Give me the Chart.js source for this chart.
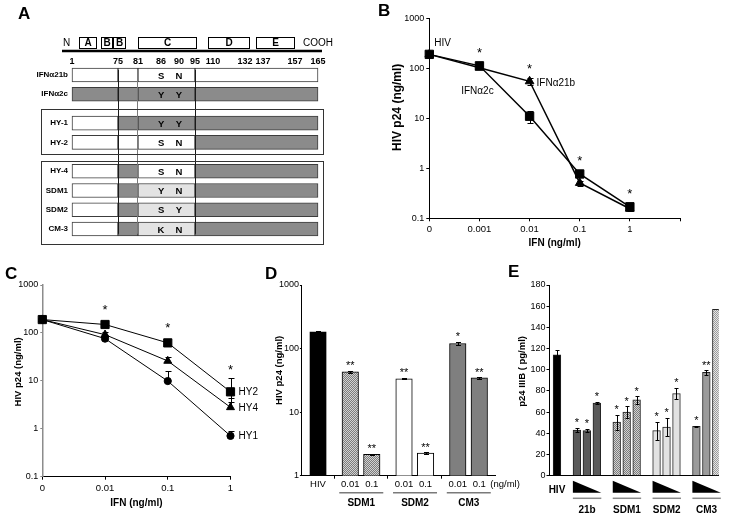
<!DOCTYPE html>
<html>
<head>
<meta charset="utf-8">
<script src="https://cdn.jsdelivr.net/npm/chart.js@4.4.1/dist/chart.umd.min.js"></script>
<style>
  html, body { margin: 0; padding: 0; background: #fff; }
  #page { position: relative; width: 733px; height: 518px; overflow: hidden; }
  #page canvas { position: absolute; }
  .tag { position: absolute; font: bold 17px/18px "Liberation Sans", Arial, sans-serif; color: #000; }
</style>
</head>
<body>
<div id="page">
  <canvas id="chartA" width="370" height="255" style="left:0;top:0"></canvas>
  <canvas id="chartB" width="363" height="252" style="left:370px;top:0"></canvas>
  <canvas id="chartC" width="262" height="256" style="left:0;top:262px"></canvas>
  <canvas id="chartD" width="270" height="256" style="left:255px;top:262px"></canvas>
  <canvas id="chartE" width="233" height="256" style="left:500px;top:262px"></canvas>
  <div class="tag" style="left:18px;top:5px">A</div>
  <div class="tag" style="left:378px;top:2px">B</div>
  <div class="tag" style="left:5px;top:265px">C</div>
  <div class="tag" style="left:265px;top:265px">D</div>
  <div class="tag" style="left:508px;top:263px">E</div>
</div>
<script>
// ---- A: chimera map ----
const rowNames = ['IFNα21b', 'IFNα2c', 'HY-1', 'HY-2', 'HY-4', 'SDM1', 'SDM2', 'CM-3'];
const rowGroup = [0, 0, 1, 1, 2, 2, 2, 2];
const segEdges = [1, 75, 81, 95, 165];
// w = IFNa21b stretch, g = IFNa2c stretch, l = mutated stretch
const rowFill = ['wwww', 'gggg', 'wggg', 'wwwg', 'wgwg', 'wglg', 'wglg', 'wglg'];
const res86 = ['S', 'Y', 'Y', 'S', 'S', 'Y', 'S', 'K'];
const res90 = ['N', 'Y', 'Y', 'N', 'N', 'N', 'Y', 'N'];
const residueTicks = [1, 75, 81, 86, 90, 95, 110, 132, 137, 157, 165];
const domainNames = ['A', 'B', 'B', 'C', 'D', 'E'];
const domainFrom = [12, 48, 67, 81, 106, 135];
const domainTo = [40, 65, 77, 96, 133, 156];

// ---- B: IFNa2c vs IFNa21b ----
const doseB = ['0', '0.001', '0.01', '0.1', '1'];
const seriesB = ['IFNα2c', 'IFNα21b'];
const ifn2c = [190, 112, 11, 0.77, 0.17];
const ifn2cErr = [10, 8, 3, 0.1, 0.02];
const ifn21b = [190, 103, 55, 0.51, 0.155];
const ifn21bErr = [10, 8, 8, 0.06, 0.015];
const starsB = ['', '*', '*', '*', '*'];

// ---- C: hybrids ----
const doseC = ['0', '0.01', '0.1', '1'];
const seriesC = ['HY2', 'HY4', 'HY1'];
const hy2 = [190, 150, 62, 5.9];
const hy2Err = [10, 10, 13, 5.5];
const hy2ErrLow = [0, 0, 0, 2.2];
const hy4 = [190, 92, 26, 2.8];
const hy4Err = [10, 12, 5, 1.6];
const hy1 = [190, 76, 9.9, 0.71];
const hy1Err = [10, 8, 6, 0.2];
const noLow = [0, 0, 0, 0];
const starsC = ['', '*', '*', '*'];

// ---- D: point mutants ----
const dGroups = ['SDM1', 'SDM2', 'CM3'];
const dDoses = ['0.01', '0.1'];
const dHiv = 184;
const dHivErr = 8;
const dValues = [[43, 2.17], [33.5, 2.27], [120, 34.5]];
const dErrors = [[1.2, 0.06], [0.8, 0.05], [6, 0.8]];
const dStars = [['**', '**'], ['**', '**'], ['*', '**']];

// ---- E: p24 IIIB ----
const eGroups = ['21b', 'SDM1', 'SDM2', 'CM3'];
const eHiv = 114;
const eHivErr = 4.5;
const eValues = [[43, 42.5, 68.5], [50.5, 60, 71.5], [42.5, 46, 77.5], [46.5, 97.5, 157]];
const eErrors = [[2, 1.5, 1], [7, 5.5, 3.5], [8.5, 8.5, 5.5], [0.5, 2, 0]];
const eStars = [['*', '*', '*'], ['*', '*', '*'], ['*', '*', '*'], ['*', '**', '']];

const logTicksB = [0.1, 1, 10, 100, 1000];
const logTicksD = [1, 10, 100, 1000];

const FONT = '"Liberation Sans", Arial, Helvetica, sans-serif';
Chart.defaults.font.family = FONT;
Chart.defaults.font.size = 9;
Chart.defaults.color = '#000';

// residue -> fraction of the drawn map (the map is not to scale)
const schemeLayout = [[1, 0], [75, 0.187], [81, 0.268], [86, 0.362], [90, 0.435], [95, 0.5],
  [110, 0.573], [132, 0.703], [137, 0.776], [157, 0.907], [165, 1]];

class SchemeScale extends Chart.LinearScale {
  getPixelForValue(value) {
    const b = schemeLayout;
    let d = 1;
    for (let i = 1; i < b.length; i++) {
      if (value <= b[i][0]) {
        d = b[i - 1][1] + (value - b[i - 1][0]) / (b[i][0] - b[i - 1][0]) * (b[i][1] - b[i - 1][1]);
        break;
      }
    }
    return this.getPixelForDecimal(d);
  }
}
SchemeScale.id = 'scheme';
SchemeScale.defaults = { ticks: { callback: v => String(v) } };
Chart.register(SchemeScale);

function hatch(bg, fg) {
  const c = document.createElement('canvas');
  c.width = 2; c.height = 2;
  const g = c.getContext('2d');
  g.fillStyle = bg; g.fillRect(0, 0, 2, 2);
  g.fillStyle = fg; g.fillRect(0, 0, 1, 1); g.fillRect(1, 1, 1, 1);
  return g.createPattern(c, 'repeat');
}

function baseOptions(padding) {
  return {
    responsive: false,
    animation: false,
    devicePixelRatio: 1,
    layout: { padding },
    plugins: { legend: { display: false }, tooltip: { enabled: false } }
  };
}

function tickGrid() {
  return { display: true, drawOnChartArea: false, drawTicks: true, tickLength: 3, tickColor: '#000', tickWidth: 1 };
}

// rotated y-axis title, sits a little above the middle of the plot like the figure
function yTitle(text, cx, size, shift) {
  return {
    id: 'yTitle',
    afterDraw(chart) {
      const { ctx, chartArea: ca } = chart;
      ctx.save();
      ctx.translate(cx, (ca.top + ca.bottom) / 2 + shift);
      ctx.rotate(-Math.PI / 2);
      ctx.font = 'bold ' + size + 'px ' + FONT;
      ctx.textAlign = 'center';
      ctx.textBaseline = 'middle';
      ctx.fillStyle = '#000';
      ctx.fillText(text, 0, 0);
      ctx.restore();
    }
  };
}

function errorBars(onTop, cap) {
  const draw = chart => {
    const { ctx } = chart;
    const y = chart.scales.y;
    ctx.save();
    ctx.strokeStyle = '#000';
    ctx.lineWidth = 1;
    chart.data.datasets.forEach((ds, di) => {
      if (!ds.errors) return;
      chart.getDatasetMeta(di).data.forEach((el, i) => {
        const v = ds.data[i], e = ds.errors[i];
        if (v == null || !e) return;
        const lo = ds.errorsLow ? ds.errorsLow[i] : e;
        const px = Math.round(el.x) + 0.5;
        const yt = Math.round(y.getPixelForValue(v + e)) + 0.5;
        const yb = Math.round(y.getPixelForValue(Math.max(v - lo, y.min))) + 0.5;
        ctx.beginPath();
        ctx.moveTo(px, yb); ctx.lineTo(px, yt);
        ctx.moveTo(px - cap, yt); ctx.lineTo(px + cap, yt);
        if (lo) { ctx.moveTo(px - cap, yb); ctx.lineTo(px + cap, yb); }
        ctx.stroke();
      });
    });
    ctx.restore();
  };
  return onTop ? { id: 'errorBars', afterDatasetsDraw: draw } : { id: 'errorBars', beforeDatasetsDraw: draw };
}

function starsOverPoints(stars, gap, size) {
  return {
    id: 'starsPts',
    afterDatasetsDraw(chart) {
      const { ctx, scales: { y } } = chart;
      ctx.save();
      ctx.font = size + 'px ' + FONT;
      ctx.textAlign = 'center';
      ctx.textBaseline = 'alphabetic';
      ctx.fillStyle = '#000';
      stars.forEach((s, i) => {
        if (!s) return;
        let top = Infinity, px = 0;
        chart.data.datasets.forEach((ds, di) => {
          const el = chart.getDatasetMeta(di).data[i];
          px = el.x;
          top = Math.min(top, y.getPixelForValue(ds.data[i] + ds.errors[i]), el.y - ds.pointRadius);
        });
        ctx.fillText(s, px, top - gap + 0.57 * size);
      });
      ctx.restore();
    }
  };
}

function starsOverBars(gap, size) {
  return {
    id: 'starsBars',
    afterDatasetsDraw(chart) {
      const { ctx, scales: { y } } = chart;
      ctx.save();
      ctx.font = size + 'px ' + FONT;
      ctx.textAlign = 'center';
      ctx.fillStyle = '#000';
      chart.data.datasets.forEach((ds, di) => {
        chart.getDatasetMeta(di).data.forEach((el, i) => {
          const s = ds.stars[i];
          if (!s) return;
          const top = y.getPixelForValue(ds.data[i] + (ds.errors[i] || 0));
          ctx.fillText(s, el.x, top - gap + 0.57 * size);
        });
      });
      ctx.restore();
    }
  };
}

// ================= A =================
const fillColor = { w: '#ffffff', g: '#8b8b8b', l: '#e3e3e3' };
// half-row slots: one empty slot between rows, two between framed groups
const rowLabels = [];
const rowSlot = [];
rowNames.forEach((n, i) => {
  if (i > 0) rowLabels.push(...(rowGroup[i] !== rowGroup[i - 1] ? ['', ''] : ['']));
  rowSlot.push(rowLabels.length);
  rowLabels.push(n);
});

const segSets = segEdges.slice(1).map((end, s) => ({
  data: rowLabels.map(l => rowNames.indexOf(l) < 0 ? null : [segEdges[s], end]),
  backgroundColor: rowLabels.map(l => {
    const i = rowNames.indexOf(l);
    return i < 0 ? 'rgba(0,0,0,0)' : fillColor[rowFill[i][s]];
  }),
  borderColor: '#3c3c3c',
  borderWidth: 1,
  borderSkipped: false,
  barThickness: 14,
  grouped: false,
  clip: false
}));

const schemePlugin = {
  id: 'schemeDraw',
  afterDraw(chart) {
    const { ctx, chartArea: ca, scales: { x, y } } = chart;
    const right = x.getPixelForValue(165);
    ctx.save();
    // framed groups
    ctx.strokeStyle = '#333';
    ctx.lineWidth = 1;
    [1, 2].forEach(g => {
      const rows = rowNames.map((n, i) => i).filter(i => rowGroup[i] === g);
      const t = Math.round(y.getPixelForValue(rowSlot[rows[0]]) - (g === 1 ? 14 : 10.5)) + 0.5;
      const b = Math.round(y.getPixelForValue(rowSlot[rows[rows.length - 1]]) + (g === 2 ? 15.5 : 11.5)) + 0.5;
      ctx.strokeRect(Math.round(ca.left - 31) + 0.5, t, Math.round(right + 5 - ca.left + 31), b - t);
    });
    // residues 86 / 90
    ctx.fillStyle = '#000';
    ctx.font = 'bold 9.5px ' + FONT;
    ctx.textAlign = 'center';
    ctx.textBaseline = 'middle';
    rowNames.forEach((n, i) => {
      const py = y.getPixelForValue(rowSlot[i]) + 1;
      ctx.fillText(res86[i], x.getPixelForValue(86), py);
      ctx.fillText(res90[i], x.getPixelForValue(90), py);
    });
    // domain header
    const lineY = ca.top - 19.2;
    ctx.strokeStyle = '#000';
    ctx.lineWidth = 2.5;
    ctx.beginPath();
    ctx.moveTo(x.getPixelForValue(1) - 10, lineY);
    ctx.lineTo(right + 4, lineY);
    ctx.stroke();
    const bt = Math.round(ca.top - 33.2) + 0.5, bh = 11;
    ctx.lineWidth = 1;
    domainNames.forEach((d, i) => {
      const l = Math.round(x.getPixelForValue(domainFrom[i])) + 0.5;
      const r = Math.round(x.getPixelForValue(domainTo[i])) + 0.5;
      ctx.fillStyle = '#fff';
      ctx.fillRect(l, bt, r - l, bh);
      ctx.strokeRect(l, bt, r - l, bh);
      ctx.fillStyle = '#000';
      ctx.font = 'bold 10px ' + FONT;
      ctx.fillText(d, (l + r) / 2, bt + bh / 2 + 0.5);
    });
    ctx.font = '10px ' + FONT;
    ctx.textAlign = 'left';
    ctx.fillText('N', x.getPixelForValue(1) - 9, bt + bh / 2 + 0.5);
    ctx.textAlign = 'right';
    ctx.fillText('COOH', right + 15, bt + bh / 2 + 0.5);
    ctx.restore();
  }
};

const cutColor = { 75: '#1a1a1a', 81: '#7a7a7a', 95: '#1a1a1a' };

new Chart(document.getElementById('chartA'), {
  type: 'bar',
  data: { labels: rowLabels, datasets: segSets },
  options: {
    ...baseOptions({ top: 0, right: 52, bottom: 21.2, left: 0 }),
    indexAxis: 'y',
    scales: {
      x: {
        type: 'scheme',
        position: 'top',
        min: 1,
        max: 165,
        afterBuildTicks: s => { s.ticks = residueTicks.map(v => ({ value: v })); },
        afterFit: s => { s.height = 70.2; },
        ticks: { font: { size: 9, weight: 'bold' }, padding: 2.8, autoSkip: false, maxRotation: 0, callback: v => String(v) },
        grid: {
          z: 1,
          drawTicks: false,
          lineWidth: 1,
          color: c => (c.tick && cutColor[c.tick.value]) || 'rgba(0,0,0,0)'
        },
        border: { display: false }
      },
      y: {
        afterFit: s => { s.width = 72; },
        ticks: { font: { size: 8, weight: 'bold' }, padding: 4, autoSkip: false },
        grid: { display: false, drawTicks: false },
        border: { display: false }
      }
    }
  },
  plugins: [schemePlugin]
});

// ================= B =================
const labelsB = {
  id: 'labelsB',
  afterDatasetsDraw(chart) {
    const { ctx, scales: { x, y } } = chart;
    ctx.save();
    ctx.font = '10px ' + FONT;
    ctx.fillStyle = '#000';
    ctx.textBaseline = 'middle';
    ctx.textAlign = 'left';
    ctx.fillText('HIV', x.getPixelForValue(0) + 5, y.getPixelForValue(ifn2c[0]) - 11);
    ctx.textAlign = 'center';
    ctx.fillText(seriesB[0], x.getPixelForValue(1) - 2, y.getPixelForValue(ifn2c[1]) + 25);
    ctx.textAlign = 'left';
    ctx.fillText(seriesB[1], x.getPixelForValue(2) + 7, y.getPixelForValue(ifn21b[2]) + 2);
    ctx.restore();
  }
};

new Chart(document.getElementById('chartB'), {
  type: 'line',
  data: {
    labels: [...doseB, ''],
    datasets: [
      { label: seriesB[0], data: ifn2c, errors: ifn2cErr, pointStyle: 'rect', pointRadius: 5.9,
        borderColor: '#000', backgroundColor: '#000', pointBorderWidth: 1, borderWidth: 1.5, clip: false },
      { label: seriesB[1], data: ifn21b, errors: ifn21bErr, pointStyle: 'triangle', pointRadius: 5,
        borderColor: '#000', backgroundColor: '#000', pointBorderWidth: 1, borderWidth: 1.5, clip: false }
    ]
  },
  options: {
    ...baseOptions({ top: 18.3, right: 53, bottom: 0, left: 0 }),
    scales: {
      x: {
        afterFit: s => { s.height = 33.7; },
        ticks: { font: { size: 9.5 }, padding: 2, autoSkip: false, maxRotation: 0 },
        grid: tickGrid(),
        border: { color: '#000', width: 1 },
        title: { display: true, text: 'IFN (ng/ml)', font: { size: 10, weight: 'bold' }, padding: { top: 0, bottom: 3 } }
      },
      y: {
        type: 'logarithmic',
        min: 0.1,
        max: 1000,
        afterBuildTicks: s => { s.ticks = logTicksB.map(v => ({ value: v })); },
        afterFit: s => { s.width = 59.3; },
        ticks: { callback: v => String(v), padding: 2 },
        grid: tickGrid(),
        border: { color: '#000', width: 1 }
      }
    }
  },
  plugins: [errorBars(false, 3), starsOverPoints(starsB, 10.5, 13), labelsB, yTitle('HIV p24 (ng/ml)', 28, 12, -11)]
});

// ================= C =================
const labelsC = {
  id: 'labelsC',
  afterDatasetsDraw(chart) {
    const { ctx, scales: { x, y } } = chart;
    const last = doseC.length - 1;
    ctx.save();
    ctx.font = '10px ' + FONT;
    ctx.fillStyle = '#000';
    ctx.textBaseline = 'middle';
    ctx.textAlign = 'left';
    chart.data.datasets.forEach(ds => {
      ctx.fillText(ds.label, x.getPixelForValue(last) + 8, y.getPixelForValue(ds.data[last]) + 0.5);
    });
    ctx.restore();
  }
};

new Chart(document.getElementById('chartC'), {
  type: 'line',
  data: {
    labels: doseC,
    datasets: [
      { label: seriesC[0], data: hy2, errors: hy2Err, errorsLow: hy2ErrLow, pointStyle: 'rect', pointRadius: 5.8,
        borderColor: '#000', backgroundColor: '#000', pointBorderWidth: 1, borderWidth: 1, clip: false },
      { label: seriesC[1], data: hy4, errors: hy4Err, errorsLow: noLow, pointStyle: 'triangle', pointRadius: 4.6,
        borderColor: '#000', backgroundColor: '#000', pointBorderWidth: 1, borderWidth: 1, clip: false },
      { label: seriesC[2], data: hy1, errors: hy1Err, errorsLow: noLow, pointStyle: 'circle', pointRadius: 3.6,
        borderColor: '#000', backgroundColor: '#000', pointBorderWidth: 1, borderWidth: 1, clip: false }
    ]
  },
  options: {
    ...baseOptions({ top: 23, right: 31.5, bottom: 0, left: 0 }),
    scales: {
      x: {
        afterFit: s => { s.height = 41.3; },
        ticks: { font: { size: 9.5 }, padding: 3, autoSkip: false, maxRotation: 0 },
        grid: tickGrid(),
        border: { color: '#000', width: 1 },
        title: { display: true, text: 'IFN (ng/ml)', font: { size: 10, weight: 'bold' }, padding: { top: 0, bottom: 9 } }
      },
      y: {
        type: 'logarithmic',
        min: 0.1,
        max: 1000,
        afterBuildTicks: s => { s.ticks = logTicksB.map(v => ({ value: v })); },
        afterFit: s => { s.width = 42.3; },
        ticks: { callback: v => String(v), padding: 2 },
        grid: { ...tickGrid(), tickLength: 2, tickColor: '#888' },
        border: { color: '#8c8c8c', width: 1.5 }
      }
    }
  },
  plugins: [errorBars(false, 3), starsOverPoints(starsC, 12, 13), labelsC, yTitle('HIV p24 (ng/ml)', 18, 9.5, -9)]
});

// ================= D =================
const dFill = [hatch('#d2d2d2', '#7c7c7c'), '#ffffff', '#7f7f7f'];
const dLabels = ['', 'HIV'];
const dData = [null, dHiv];
const dErr = [null, dHivErr];
const dStar = [null, ''];
const dColor = ['#fff', '#000'];
const dGroupIdx = [];
dGroups.forEach((g, gi) => {
  dLabels.push('', ''); dData.push(null, null); dErr.push(null, null); dStar.push(null, null); dColor.push('#fff', '#fff');
  const idx = [];
  dDoses.forEach((dose, k) => {
    if (k > 0) { dLabels.push(''); dData.push(null); dErr.push(null); dStar.push(null); dColor.push('#fff'); }
    idx.push(dLabels.length);
    dLabels.push(dose);
    dData.push(dValues[gi][k]);
    dErr.push(dErrors[gi][k]);
    dStar.push(dStars[gi][k]);
    dColor.push(dFill[gi]);
  });
  dGroupIdx.push(idx);
});
dLabels.push(''); dData.push(null); dErr.push(null); dStar.push(null); dColor.push('#fff');

const groupsD = {
  id: 'groupsD',
  afterDraw(chart) {
    const { ctx, scales: { x } } = chart;
    ctx.save();
    dGroupIdx.forEach((idx, g) => {
      const l = x.getPixelForValue(idx[0]) - 11;
      const r = x.getPixelForValue(idx[idx.length - 1]) + 11.5;
      ctx.strokeStyle = '#7a7a7a';
      ctx.lineWidth = 1.5;
      ctx.beginPath(); ctx.moveTo(l, 230.7); ctx.lineTo(r, 230.7); ctx.stroke();
      ctx.fillStyle = '#000';
      ctx.font = 'bold 10px ' + FONT;
      ctx.textAlign = 'center';
      ctx.textBaseline = 'middle';
      ctx.fillText(dGroups[g], (l + r) / 2, 241);
    });
    const lastIdx = dGroupIdx[dGroupIdx.length - 1];
    ctx.font = '9.5px ' + FONT;
    ctx.textAlign = 'left';
    ctx.fillText('(ng/ml)', x.getPixelForValue(lastIdx[lastIdx.length - 1]) + 11, 222);
    ctx.restore();
  }
};

new Chart(document.getElementById('chartD'), {
  type: 'bar',
  data: {
    labels: dLabels,
    datasets: [{ data: dData, errors: dErr, stars: dStar, backgroundColor: dColor,
      borderColor: '#000', borderWidth: 1, barThickness: 16.5 }]
  },
  options: {
    ...baseOptions({ top: 23, right: 29.6, bottom: 0, left: 0 }),
    scales: {
      x: {
        afterFit: s => { s.height = 42.3; },
        ticks: { font: { size: 9.5 }, padding: 0, autoSkip: false, maxRotation: 0 },
        grid: {
          ...tickGrid(),
          offset: true,
          tickColor: c => (c.index > 0 && dLabels[c.index] === '' && dLabels[c.index - 1] === '') ? '#000' : 'rgba(0,0,0,0)'
        },
        border: { color: '#000', width: 1 }
      },
      y: {
        type: 'logarithmic',
        min: 1,
        max: 1000,
        afterBuildTicks: s => { s.ticks = logTicksD.map(v => ({ value: v })); },
        afterFit: s => { s.width = 46.9; },
        ticks: { callback: v => String(v), padding: 1 },
        grid: { ...tickGrid(), tickLength: 2 },
        border: { color: '#000', width: 1 }
      }
    }
  },
  plugins: [errorBars(true, 2.5), starsOverBars(8, 11), groupsD, yTitle('HIV p24 (ng/ml)', 24, 9.5, -10)]
});

// ================= E =================
const hatchLight = hatch('#e6e6e6', '#9a9a9a');
const hatchMid = hatch('#d2d2d2', '#7c7c7c');
const eFill = [['#5a5a5a', '#5a5a5a', '#5a5a5a'],
  [hatchMid, hatchMid, hatchMid],
  ['#e2e2e2', '#e2e2e2', '#e2e2e2'],
  ['#9b9b9b', '#9b9b9b', hatchLight]];
const eLabels = ['', 'HIV'];
const eData = [null, eHiv];
const eErr = [null, eHivErr];
const eStar = [null, ''];
const eColor = ['#fff', '#000'];
const eGroupIdx = [];
eGroups.forEach((g, gi) => {
  eLabels.push('', '', ''); eData.push(null, null, null); eErr.push(null, null, null);
  eStar.push(null, null, null); eColor.push('#fff', '#fff', '#fff');
  const idx = [];
  eValues[gi].forEach((v, k) => {
    if (k > 0) { eLabels.push(''); eData.push(null); eErr.push(null); eStar.push(null); eColor.push('#fff'); }
    idx.push(eLabels.length);
    eLabels.push('');
    eData.push(v);
    eErr.push(eErrors[gi][k]);
    eStar.push(eStars[gi][k]);
    eColor.push(eFill[gi][k]);
  });
  eGroupIdx.push(idx);
});

const groupsE = {
  id: 'groupsE',
  afterDraw(chart) {
    const { ctx, scales: { x } } = chart;
    ctx.save();
    eGroupIdx.forEach((idx, g) => {
      const l = x.getPixelForValue(idx[0]) - 4;
      const r = x.getPixelForValue(idx[idx.length - 1]) + 4.5;
      ctx.fillStyle = '#000';
      ctx.beginPath();
      ctx.moveTo(l, 218.7); ctx.lineTo(r, 230.7); ctx.lineTo(l, 230.7); ctx.closePath();
      ctx.fill();
      ctx.strokeStyle = '#8a8a8a';
      ctx.lineWidth = 1.5;
      ctx.beginPath(); ctx.moveTo(l, 236.3); ctx.lineTo(r, 236.3); ctx.stroke();
      ctx.font = 'bold 10px ' + FONT;
      ctx.textAlign = 'center';
      ctx.textBaseline = 'middle';
      ctx.fillText(eGroups[g], (l + r) / 2, 248);
    });
    ctx.restore();
  }
};

new Chart(document.getElementById('chartE'), {
  type: 'bar',
  data: {
    labels: eLabels,
    datasets: [{ data: eData, errors: eErr, stars: eStar, backgroundColor: eColor,
      borderColor: '#222', borderWidth: 1, barThickness: 7.7 }]
  },
  options: {
    ...baseOptions({ top: 23, right: 14.2, bottom: 0, left: 0 }),
    scales: {
      x: {
        afterFit: s => { s.height = 42.3; },
        ticks: { font: { size: 10, weight: 'bold' }, padding: 8.3, autoSkip: false, maxRotation: 0 },
        grid: { display: false, drawTicks: false },
        border: { color: '#000', width: 1 }
      },
      y: {
        min: 0,
        max: 180,
        afterFit: s => { s.width = 49.5; },
        ticks: { stepSize: 20, padding: 1 },
        grid: tickGrid(),
        border: { color: '#000', width: 1 }
      }
    }
  },
  plugins: [errorBars(true, 2), starsOverBars(8, 11), groupsE, yTitle('p24 IIIB ( pg/ml)', 22.5, 9.5, -9)]
});
</script>
</body>
</html>
